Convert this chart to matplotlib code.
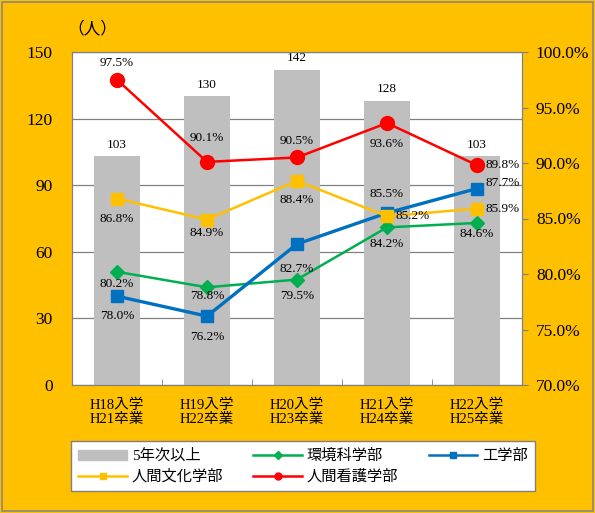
import matplotlib
matplotlib.use("Agg")
import matplotlib.pyplot as plt
from matplotlib.ticker import FixedLocator, FuncFormatter
from matplotlib.lines import Line2D
from matplotlib.patches import Patch, Rectangle

plt.rcParams["font.family"] = ["Liberation Serif", "Noto Sans CJK JP"]

cats = ["H18入学\nH21卒業", "H19入学\nH22卒業", "H20入学\nH23卒業", "H21入学\nH24卒業", "H22入学\nH25卒業"]
students = [103, 130, 142, 128, 103]
nursing = [97.5, 90.1, 90.5, 93.6, 89.8]
humanities = [86.8, 84.9, 88.4, 85.2, 85.9]
environment = [80.2, 78.8, 79.5, 84.2, 84.6]
engineering = [78.0, 76.2, 82.7, 85.5, 87.7]

ORANGE_BG = "#FFC000"
x = list(range(len(cats)))

fig = plt.figure(figsize=(5.95, 5.13), dpi=100, facecolor=ORANGE_BG)
fig.patches.append(Rectangle((0.003, 0.003), 0.994, 0.994, transform=fig.transFigure,
                             fill=False, edgecolor="#888888", lw=1.2))
ax = fig.add_axes([72 / 595, 1 - 385 / 513, 450 / 595, 333 / 513])
ax.set_facecolor("white")

ax.bar(x, students, width=0.52, color="#BFBFBF", zorder=2)
for xi, v in zip(x, students):
    ax.annotate(str(v), (xi, v), xytext=(0, 4), textcoords="offset points",
                ha="center", va="bottom", fontsize=9.5)

ax.set_ylim(0, 150)
ax.set_yticks(range(0, 151, 30))
ax.set_xlim(-0.5, 4.5)
ax.grid(axis="y", color="#808080", lw=0.9, zorder=0)
ax.set_xticks(x)
ax.set_xticklabels(cats, fontsize=10.5, linespacing=1.1)
ax.tick_params(axis="x", length=0, pad=10)
ax.xaxis.set_minor_locator(FixedLocator([0.5, 1.5, 2.5, 3.5]))
ax.tick_params(axis="x", which="minor", direction="in", length=4, color="#808080")
ax.tick_params(axis="y", labelsize=12.5, length=0, pad=14)
for s in ax.spines.values():
    s.set_color("#808080")
ax.text(-0.01, 1.045, "（人）", transform=ax.transAxes, fontsize=12, ha="left", va="bottom")

ax2 = ax.twinx()
ax2.set_ylim(70, 100)
ax2.set_yticks(range(70, 101, 5))
ax2.yaxis.set_major_formatter(FuncFormatter(lambda v, p: f"{v:.1f}%"))
ax2.tick_params(axis="y", labelsize=12.5, length=4, color="#808080", pad=6)
for s in ax2.spines.values():
    s.set_color("#808080")

series = [
    (environment, "#00B050", "D", 7, 1.8, "環境科学部"),
    (engineering, "#0070C0", "s", 9, 2.4, "工学部"),
    (humanities, "#FFC000", "s", 9, 1.8, "人間文化学部"),
    (nursing, "#FF0000", "o", 10, 1.8, "人間看護学部"),
]
for vals, col, mk, ms, lw, name in series:
    ax2.plot(x, vals, color=col, marker=mk, markersize=ms, lw=lw, zorder=3)

# label offsets in points: (dx, dy, ha)
placements = {
    "環境科学部": [(0, -9, "center"), (0, -6, "center"), (0, -12, "center"), (0, -12, "center"), (0, -8, "center")],
    "工学部": [(0, -14, "center"), (0, -15, "center"), (0, -18, "center"), (0, 14, "center"), (6, 4, "left")],
    "人間文化学部": [(0, -15, "center"), (0, -10, "center"), (0, -14, "center"), (6, 0, "left"), (6, 0, "left")],
    "人間看護学部": [(0, 12, "center"), (0, 17, "center"), (0, 12, "center"), (0, -15, "center"), (6, 0, "left")],
}
for vals, col, mk, ms, lw, name in series:
    for xi, v, (dx, dy, ha) in zip(x, vals, placements[name]):
        ax2.annotate(f"{v:.1f}%", (xi, v), xytext=(dx, dy), textcoords="offset points",
                     ha=ha, va="center", fontsize=9.5, zorder=5)

handles = [
    Patch(color="#BFBFBF"),
    Line2D([], [], color="#FFC000", marker="s", ms=5, lw=1.8),
    Line2D([], [], color="#00B050", marker="D", ms=4, lw=1.8),
    Line2D([], [], color="#FF0000", marker="o", ms=5, lw=1.8),
    Line2D([], [], color="#0070C0", marker="s", ms=5, lw=1.8),
]
labels = ["5年次以上", "人間文化学部", "環境科学部", "人間看護学部", "工学部"]
leg = fig.legend(handles, labels, ncol=3, loc="lower left",
                 bbox_to_anchor=(63 / 595, 1 - 499 / 513, 480 / 595, 53 / 513),
                 mode="expand", fontsize=11, frameon=True, fancybox=False,
                 framealpha=1, facecolor="white",
                 edgecolor="#808080", handlelength=3.2, borderpad=0.5,
                 labelspacing=0.4, handleheight=0.6, handletextpad=0.3)
leg.get_frame().set_linewidth(1.0)

fig.savefig("out.png", dpi=100, facecolor=ORANGE_BG)
